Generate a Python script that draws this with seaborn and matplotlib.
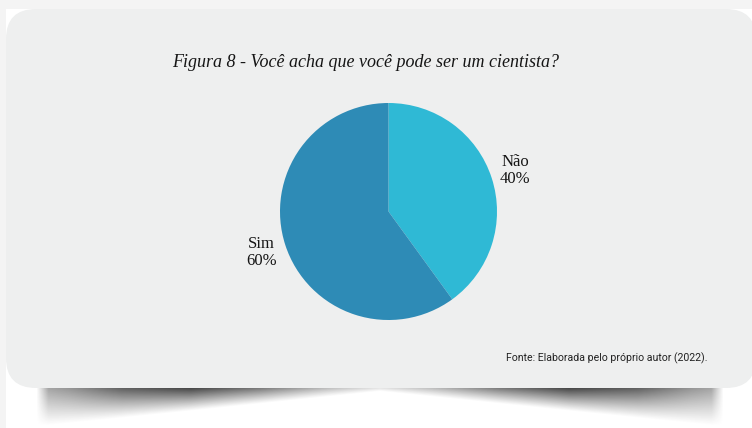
import numpy as np
import matplotlib
matplotlib.use("Agg")
import matplotlib.pyplot as plt
from matplotlib.patches import FancyBboxPatch, Rectangle
import seaborn as sns

# Survey answers
categories = ["Não", "Sim"]
percentages = [40, 60]
slice_colors = ["#2fb9d5", "#2e8bb6"]

title_text = "Figura 8 - Você acha que você pode ser um cientista?"
source_text = "Fonte: Elaborada pelo próprio autor (2022)."

sns.set_theme(style="white")
plt.rcParams["font.family"] = ["Liberation Serif", "DejaVu Serif"]

W, H = 752, 428
fig = plt.figure(figsize=(W / 100, H / 100), dpi=100, facecolor="white")

# Background layer in pixel coordinates
bg = fig.add_axes([0, 0, 1, 1])
bg.set_xlim(0, W)
bg.set_ylim(H, 0)
bg.axis("off")
bg.add_patch(Rectangle((0, 0), W, 9, color="#f4f4f4", lw=0, zorder=0))
bg.add_patch(Rectangle((0, 0), 6, H, color="#f4f4f4", lw=0, zorder=0))

# Curved drop shadow under the card
x0s, x1s, y0s, y1s = 36, 724, 388, 427
xs = np.linspace(x0s, x1s, 700)
ys = np.linspace(y0s, y1s, 80)
X, Y = np.meshgrid(xs, ys)
mid = (x0s + x1s) / 2
d = np.clip(np.abs(X - mid) / ((x1s - x0s) / 2), 0, 1)
top_strength = np.interp(d, [0, 0.15, 0.35, 0.55, 0.75, 0.9, 1.0],
                         [0.12, 0.3, 0.62, 0.86, 0.74, 0.5, 0.38])
depth = 3 + 36 * d ** 1.0
t = np.clip((Y - y0s) / depth, 0, 1)
alpha = top_strength * (1 - t) ** 1.1
edge = np.clip(np.minimum(X - x0s, x1s - X) / 12.0, 0, 1)
alpha *= edge
rgba = np.zeros(X.shape + (4,))
rgba[..., :3] = 0.16
rgba[..., 3] = alpha
bg.imshow(rgba, extent=(x0s, x1s, y1s, y0s), zorder=1, interpolation="bilinear",
          aspect="auto")

card = FancyBboxPatch((6, 9), 756 - 6, 388 - 9,
                      boxstyle="round,pad=0,rounding_size=30",
                      fc="#eeefef", ec="none", zorder=2)
bg.add_patch(card)

bg.text(366, 62, title_text, ha="center", va="center", fontsize=13,
        style="italic", color="#151515", zorder=3)
bg.text(707, 358, source_text, ha="right", va="center", fontsize=7.6,
        family="Roboto", color="#222222", zorder=3)

# Pie chart
cx, cy, r = 388.5, 211.5, 108.5
pie_ax = fig.add_axes([(cx - r) / W, 1 - (cy + r) / H, 2 * r / W, 2 * r / H])
pie_ax.set_facecolor("none")
labels = [f"{c}\n{p}%" for c, p in zip(categories, percentages)]
wedges, texts = pie_ax.pie(percentages, labels=labels, colors=slice_colors,
                           startangle=90, counterclock=False, radius=1,
                           labeldistance=1.23,
                           wedgeprops=dict(linewidth=0),
                           textprops=dict(fontsize=12, color="#151515",
                                          linespacing=1.05))
for lbl in texts:
    lbl.set_horizontalalignment("center")
    lbl.set_verticalalignment("center")
pie_ax.set_xlim(-1, 1)
pie_ax.set_ylim(-1, 1)
pie_ax.set_aspect("equal")

fig.savefig("out.png", dpi=100, facecolor="white")
